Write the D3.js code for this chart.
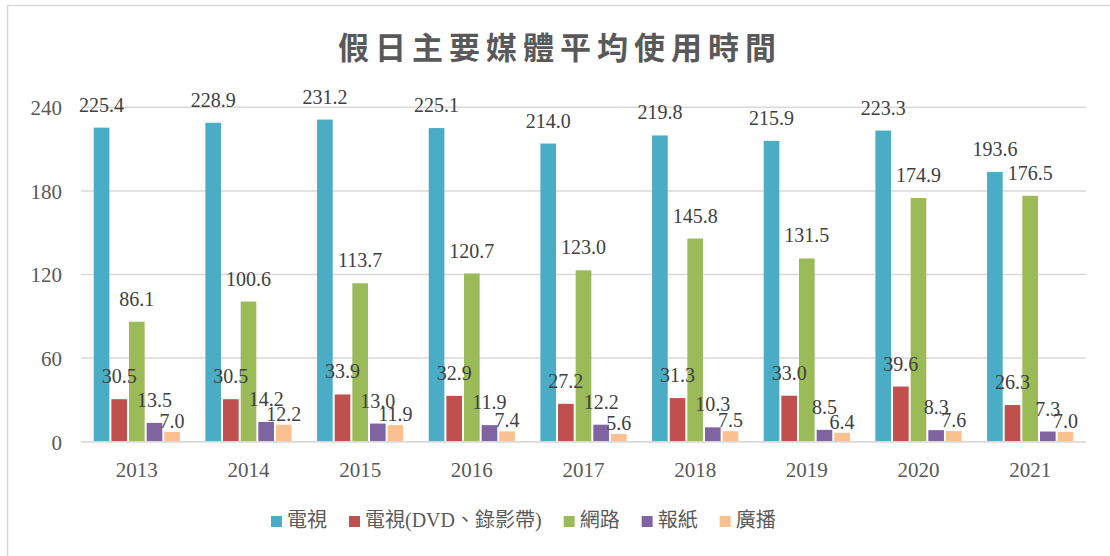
<!DOCTYPE html>
<html>
<head>
<meta charset="utf-8">
<script src="https://cdn.jsdelivr.net/npm/d3@7"></script>
<style>
  html, body { margin: 0; padding: 0; background: #fff; }
  svg { display: block; }
  .serif { font-family: "Liberation Serif", "Times New Roman", "Noto Sans CJK TC", serif; }
</style>
</head>
<body>
<svg id="chart" width="1110" height="556"></svg>
<script>
const title = "假日主要媒體平均使用時間";
const years = ["2013","2014","2015","2016","2017","2018","2019","2020","2021"];
const seriesNames = ["電視","電視(DVD、錄影帶)","網路","報紙","廣播"];
const tv      = [225.4, 228.9, 231.2, 225.1, 214.0, 219.8, 215.9, 223.3, 193.6];
const dvd     = [30.5, 30.5, 33.9, 32.9, 27.2, 31.3, 33.0, 39.6, 26.3];
const internet= [86.1, 100.6, 113.7, 120.7, 123.0, 145.8, 131.5, 174.9, 176.5];
const paper   = [13.5, 14.2, 13.0, 11.9, 12.2, 10.3, 8.5, 8.3, 7.3];
const radio   = [7.0, 12.2, 11.9, 7.4, 5.6, 7.5, 6.4, 7.6, 7.0];
const yTicks  = [0, 60, 120, 180, 240];

const seriesValues = [tv, dvd, internet, paper, radio];
const colors = ["#4BACC6", "#C0504D", "#9BBB59", "#8064A2", "#FAC090"];
const labelOffset = [16, 16, 16, 16, 4];

const svg = d3.select("#chart");

// border (top and left visible)
svg.append("path").attr("d", "M7.5,1000 V5.5 H1200")
  .attr("fill", "none").attr("stroke", "#d9d9d9").attr("stroke-width", 1.5);

const y = d3.scaleLinear().domain([0, 240]).range([441.7, 107.3]);
const x0 = d3.scaleBand().domain(years).range([81, 1086]).paddingInner(0.21).paddingOuter(0.105);
const x1 = d3.scaleBand().domain(d3.range(seriesNames.length)).range([0, x0.bandwidth()]);

// gridlines
svg.append("g").selectAll("line").data(yTicks).join("line")
  .attr("x1", 81).attr("x2", 1086)
  .attr("y1", d => y(d)).attr("y2", d => y(d))
  .attr("stroke", "#d9d9d9").attr("stroke-width", 1.5);

// y axis labels
const yAxis = svg.append("g").attr("transform", "translate(62,0)")
  .call(d3.axisLeft(y).tickValues(yTicks).tickSize(0).tickPadding(0));
yAxis.attr("font-family", null).attr("font-size", null);
yAxis.select(".domain").remove();
yAxis.selectAll("text").attr("class", "serif").style("font-size", "21px")
  .attr("fill", "#595959").attr("dy", "0.35em");

// x axis labels
const xAxis = svg.append("g").attr("transform", `translate(0,${y(0)})`)
  .call(d3.axisBottom(x0).tickSize(0).tickPadding(20));
xAxis.attr("font-family", null).attr("font-size", null);
xAxis.select(".domain").remove();
xAxis.selectAll("text").attr("class", "serif").style("font-size", "21px")
  .attr("fill", "#595959");

// bars
const groups = svg.append("g").selectAll("g").data(years).join("g")
  .attr("transform", d => `translate(${x0(d)},0)`);

groups.each(function(yr, i) {
  const g = d3.select(this);
  seriesValues.forEach((vals, s) => {
    const v = vals[i];
    g.append("rect")
      .attr("x", x1(s) + 1)
      .attr("width", x1.bandwidth() - 2)
      .attr("y", y(v))
      .attr("height", y(0) - y(v))
      .attr("fill", colors[s]);
  });
});

// data labels
groups.each(function(yr, i) {
  const g = d3.select(this);
  seriesValues.forEach((vals, s) => {
    const v = vals[i];
    g.append("text")
      .attr("class", "serif")
      .attr("x", x1(s) + x1.bandwidth() / 2)
      .attr("y", y(v) - labelOffset[s])
      .attr("text-anchor", "middle")
      .style("font-size", "20px")
      .attr("fill", "#404040")
      .text(v.toFixed(1));
  });
});

// axis baseline
svg.append("line").attr("x1", 81).attr("x2", 1086).attr("y1", y(0)).attr("y2", y(0))
  .attr("stroke", "#d9d9d9").attr("stroke-width", 1.5);

// title
svg.append("text").attr("x", 560).attr("y", 59).attr("text-anchor", "middle")
  .style("font-family", "'Noto Sans CJK TC', sans-serif").attr("font-weight", "bold")
  .style("font-size", "31px").attr("letter-spacing", 6).attr("fill", "#595959")
  .text(title);

// legend
const legend = svg.append("g").attr("transform", "translate(271,527)");
let cx = 0;
seriesNames.forEach((name, s) => {
  const item = legend.append("g").attr("transform", `translate(${cx},0)`);
  item.append("rect").attr("x", 0).attr("y", -11).attr("width", 11).attr("height", 11).attr("fill", colors[s]);
  const t = item.append("text").attr("class", "serif").attr("x", 16).attr("y", 0)
    .style("font-size", "20px").attr("fill", "#595959").text(name);
  cx += 16 + t.node().getComputedTextLength() + 22;
});
</script>
</body>
</html>
